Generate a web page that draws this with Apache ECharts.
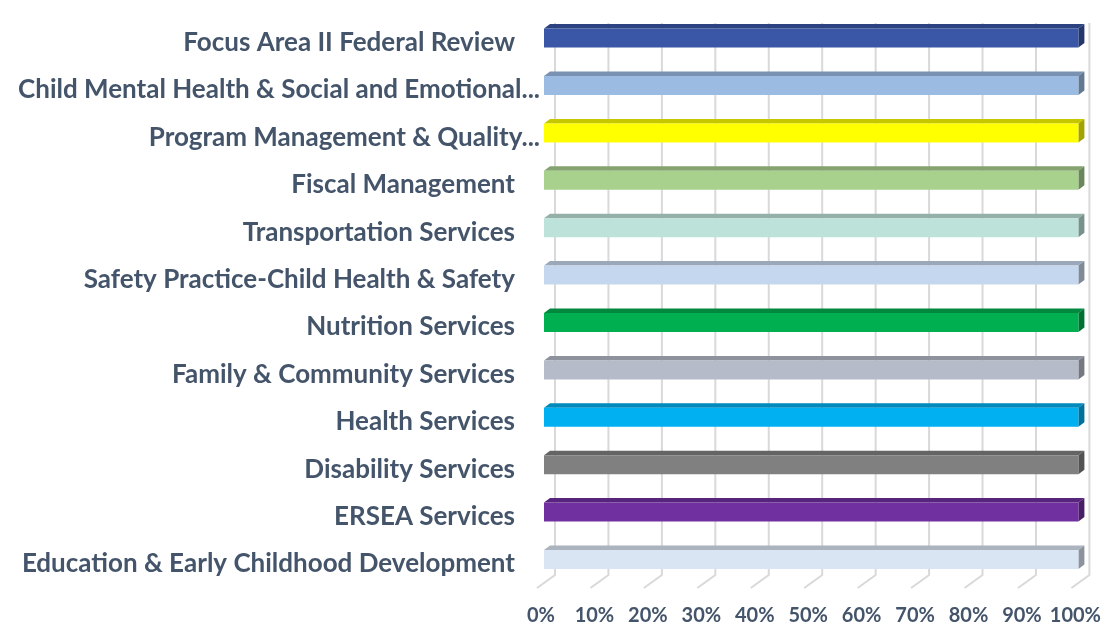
<!DOCTYPE html>
<html><head><meta charset="utf-8">
<script src="https://cdn.jsdelivr.net/npm/echarts@6/dist/echarts.min.js"></script>
<style>html,body{margin:0;padding:0;background:#fff}#c{width:1104px;height:629px}</style>
</head><body><div id="c"></div>
<script>
// Categories listed bottom -> top (as in the Excel source)
const categories = [
  'Education & Early Childhood Development',
  'ERSEA Services',
  'Disability Services',
  'Health Services',
  'Family & Community Services',
  'Nutrition Services',
  'Safety Practice-Child Health & Safety',
  'Transportation Services',
  'Fiscal Management',
  'Program Management & Quality...',
  'Child Mental Health & Social and Emotional...',
  'Focus Area II Federal Review'
];
const values = [100, 100, 100, 100, 100, 100, 100, 100, 100, 100, 100, 100];
const barColors = [
  '#DAE5F4', '#7030A0', '#808080', '#00B0F0', '#B5BBC9', '#00B050',
  '#C5D7EE', '#BCE2D9', '#A9D18E', '#FFFF00', '#9BBBE3', '#3A56A6'
];
const truncatedLabels = [
  'Program Management & Quality...',
  'Child Mental Health & Social and Emotional...'
];
const xTicks = [0, 10, 20, 30, 40, 50, 60, 70, 80, 90, 100];

const TXT = '#44546A';
const FONT = 'Lato';

function shade(hex, f) {
  const n = parseInt(hex.slice(1), 16);
  const r = Math.round(((n >> 16) & 255) * f);
  const g = Math.round(((n >> 8) & 255) * f);
  const b = Math.round((n & 255) * f);
  return 'rgb(' + r + ',' + g + ',' + b + ')';
}

const chart = echarts.init(document.getElementById('c'), null, {renderer: 'canvas'});

const option = {
  backgroundColor: '#ffffff',
  animation: false,
  grid: {left: 544, right: 24, top: 14.4, bottom: 45.8, containLabel: false},
  xAxis: {
    type: 'value', min: 0, max: 100, interval: 10,
    axisLine: {show: false}, axisTick: {show: false}, splitLine: {show: false},
    axisLabel: {
      formatter: '{value}%', color: TXT, fontFamily: FONT, fontWeight: 'bold',
      fontSize: 20, margin: 22, padding: [0, 6, 0, 0]
    }
  },
  yAxis: {
    type: 'category', data: categories,
    axisLine: {show: false}, axisTick: {show: false}, splitLine: {show: false},
    axisLabel: {
      margin: 4,
      formatter: function (v) {
        return truncatedLabels.indexOf(v) >= 0 ? '{t|' + v + '}' : '{n|' + v + '}';
      },
      rich: {
        n: {color: TXT, fontFamily: FONT, fontWeight: 'bold', fontSize: 26, padding: [9, 25, 0, 0]},
        t: {color: TXT, fontFamily: FONT, fontWeight: 'bold', fontSize: 26, padding: [9, 0, 0, 0]}
      }
    }
  },
  series: [
    {
      type: 'custom', silent: true, z: 1,
      data: xTicks.map(function (v) { return [v, 0]; }),
      encode: {x: 0, y: 1},
      renderItem: function (params, api) {
        const v = api.value(0);
        const xb = api.coord([v, 0])[0] + 11;
        const yTop = api.coord([0, categories.length - 1])[1] - 15;
        const yFloor = api.coord([0, 0])[1] + 15.5;
        return {
          type: 'polyline',
          shape: {points: [[xb, yTop], [xb, yFloor], [xb - 18, yFloor + 13]]},
          style: {stroke: '#D9D9D9', lineWidth: 2, fill: null}
        };
      }
    },
    {
      type: 'custom', silent: true, z: 2,
      data: values.map(function (v, i) { return [v, i]; }),
      encode: {x: 0, y: 1},
      renderItem: function (params, api) {
        const v = api.value(0), ci = api.value(1);
        const p0 = api.coord([0, ci]);
        const p1 = api.coord([v, ci]);
        const h = 19, dx = 6, dy = 4.5;
        const yT = p0[1] - h / 2, yB = p0[1] + h / 2;
        const x0 = p0[0], x1 = p1[0];
        const c = barColors[params.dataIndex];
        return {
          type: 'group',
          children: [
            {type: 'polygon', shape: {points: [[x0, yT], [x0 + dx, yT - dy], [x1 + dx, yT - dy], [x1, yT]]},
             style: {fill: shade(c, 0.78)}},
            {type: 'polygon', shape: {points: [[x1, yT], [x1 + dx, yT - dy], [x1 + dx, yB - dy], [x1, yB]]},
             style: {fill: shade(c, 0.64)}},
            {type: 'rect', shape: {x: x0, y: yT, width: x1 - x0, height: h},
             style: {fill: c}}
          ]
        };
      }
    }
  ]
};
chart.setOption(option);
</script>
</body></html>
